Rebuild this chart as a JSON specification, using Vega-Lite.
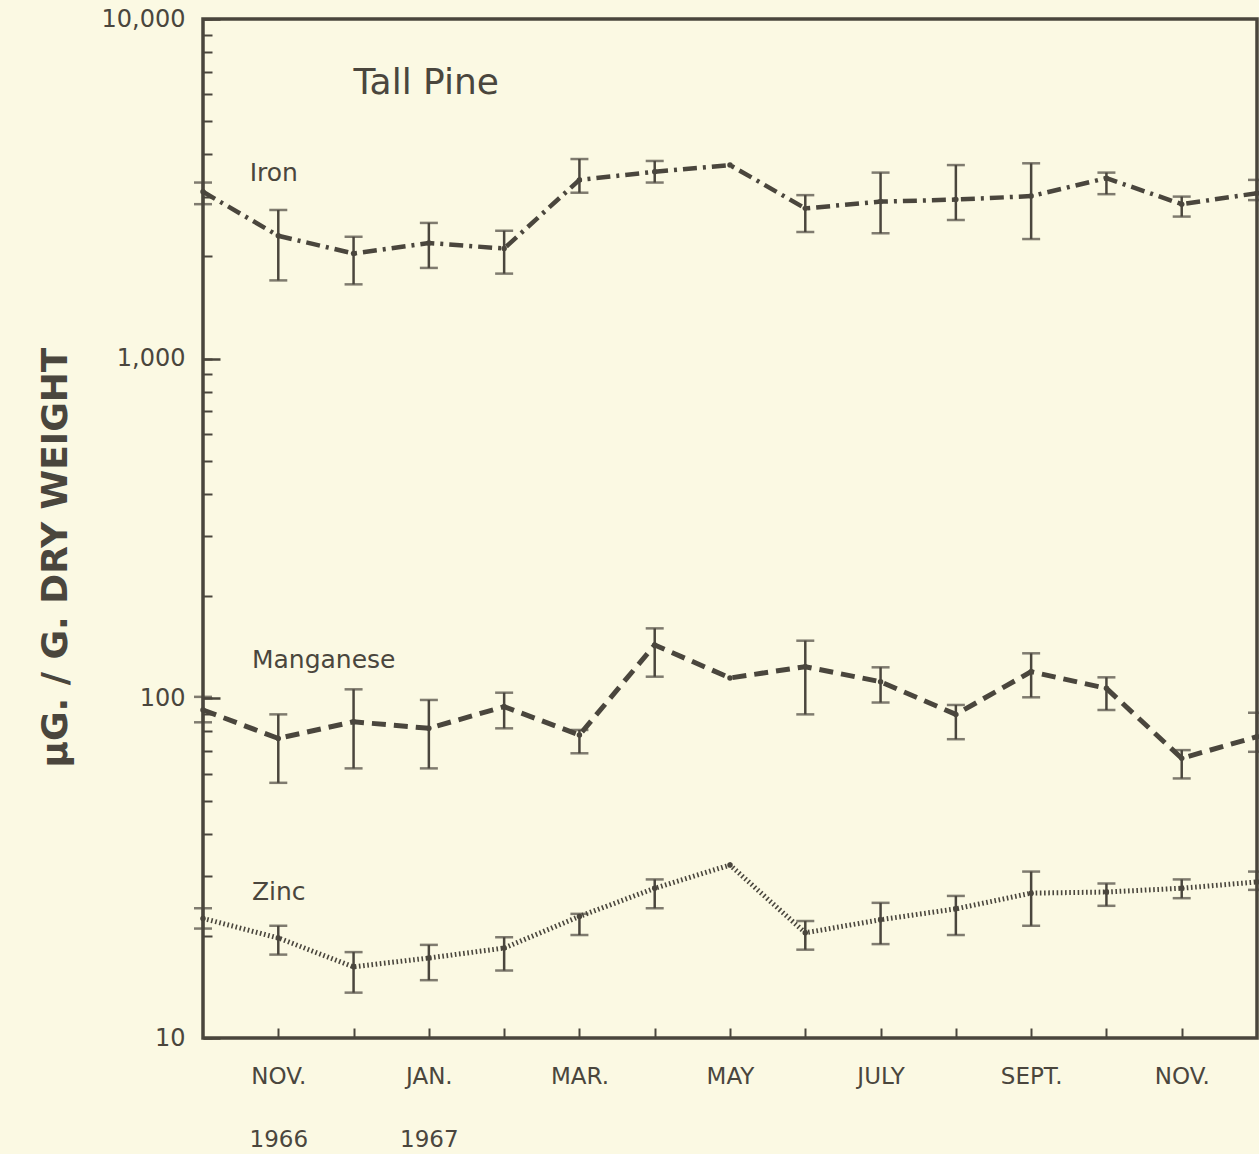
{
  "$schema": "https://vega.github.io/schema/vega-lite/v6.json",
  "width": 1054,
  "height": 1019,
  "autosize": {"type": "none"},
  "padding": {"left": 203, "top": 19, "right": 2, "bottom": 116},
  "background": "#fbf9e3",
  "config": {
    "view": {"stroke": "#4a463d", "strokeWidth": 3.5},
    "font": "DejaVu Sans"
  },
  "datasets": {
    "series": [
      {"el": "Iron", "m": 0, "v": 3100, "lo": 2850, "hi": 3300},
      {"el": "Iron", "m": 1, "v": 2300, "lo": 1700, "hi": 2740},
      {"el": "Iron", "m": 2, "v": 2040, "lo": 1655, "hi": 2285},
      {"el": "Iron", "m": 3, "v": 2190, "lo": 1850, "hi": 2510},
      {"el": "Iron", "m": 4, "v": 2110, "lo": 1780, "hi": 2380},
      {"el": "Iron", "m": 5, "v": 3360, "lo": 3080, "hi": 3870},
      {"el": "Iron", "m": 6, "v": 3550, "lo": 3300, "hi": 3820},
      {"el": "Iron", "m": 7, "v": 3715, "lo": null, "hi": null},
      {"el": "Iron", "m": 8, "v": 2770, "lo": 2360, "hi": 3030},
      {"el": "Iron", "m": 9, "v": 2900, "lo": 2340, "hi": 3530},
      {"el": "Iron", "m": 10, "v": 2940, "lo": 2560, "hi": 3715},
      {"el": "Iron", "m": 11, "v": 3010, "lo": 2250, "hi": 3760},
      {"el": "Iron", "m": 12, "v": 3400, "lo": 3050, "hi": 3530},
      {"el": "Iron", "m": 13, "v": 2850, "lo": 2620, "hi": 3000},
      {"el": "Iron", "m": 14, "v": 3070, "lo": 2930, "hi": 3360},
      {"el": "Manganese", "m": 0, "v": 92.4, "lo": 85, "hi": 101},
      {"el": "Manganese", "m": 1, "v": 76.2, "lo": 56.4, "hi": 89.7},
      {"el": "Manganese", "m": 2, "v": 85.3, "lo": 62.2, "hi": 106.3},
      {"el": "Manganese", "m": 3, "v": 81.6, "lo": 62.2, "hi": 98.9},
      {"el": "Manganese", "m": 4, "v": 94.5, "lo": 81.6, "hi": 103.9},
      {"el": "Manganese", "m": 5, "v": 78.0, "lo": 68.9, "hi": 80.7},
      {"el": "Manganese", "m": 6, "v": 143.6, "lo": 115.8, "hi": 160.7},
      {"el": "Manganese", "m": 7, "v": 114.8, "lo": null, "hi": null},
      {"el": "Manganese", "m": 8, "v": 123.9, "lo": 89.7, "hi": 147.8},
      {"el": "Manganese", "m": 9, "v": 111.9, "lo": 97.2, "hi": 123.4},
      {"el": "Manganese", "m": 10, "v": 89.7, "lo": 75.8, "hi": 95.6},
      {"el": "Manganese", "m": 11, "v": 119.8, "lo": 100.7, "hi": 135.7},
      {"el": "Manganese", "m": 12, "v": 107, "lo": 92.4, "hi": 115.3},
      {"el": "Manganese", "m": 13, "v": 66.6, "lo": 58.1, "hi": 70.4},
      {"el": "Manganese", "m": 14, "v": 77.1, "lo": 69.6, "hi": 90.7},
      {"el": "Zinc", "m": 0, "v": 22.5, "lo": 21.0, "hi": 24.1},
      {"el": "Zinc", "m": 1, "v": 19.7, "lo": 17.6, "hi": 21.4},
      {"el": "Zinc", "m": 2, "v": 16.2, "lo": 13.6, "hi": 17.9},
      {"el": "Zinc", "m": 3, "v": 17.2, "lo": 14.8, "hi": 18.8},
      {"el": "Zinc", "m": 4, "v": 18.4, "lo": 15.8, "hi": 19.8},
      {"el": "Zinc", "m": 5, "v": 22.8, "lo": 20.1, "hi": 23.2},
      {"el": "Zinc", "m": 6, "v": 27.6, "lo": 24.1, "hi": 29.3},
      {"el": "Zinc", "m": 7, "v": 32.3, "lo": null, "hi": null},
      {"el": "Zinc", "m": 8, "v": 20.4, "lo": 18.2, "hi": 22.1},
      {"el": "Zinc", "m": 9, "v": 22.3, "lo": 18.9, "hi": 25.0},
      {"el": "Zinc", "m": 10, "v": 24.0, "lo": 20.1, "hi": 26.2},
      {"el": "Zinc", "m": 11, "v": 26.7, "lo": 21.4, "hi": 30.9},
      {"el": "Zinc", "m": 12, "v": 26.9, "lo": 24.5, "hi": 28.5},
      {"el": "Zinc", "m": 13, "v": 27.6, "lo": 25.8, "hi": 29.3},
      {"el": "Zinc", "m": 14, "v": 28.8, "lo": 27.3, "hi": 30.9}
    ],
    "notes": [
      {"label": "Tall Pine", "m": 2.0, "v": 6470, "size": "big"},
      {"label": "Iron", "m": 0.62, "v": 3520, "size": "small"},
      {"label": "Manganese", "m": 0.65, "v": 129.7, "size": "small"},
      {"label": "Zinc", "m": 0.65, "v": 26.9, "size": "small"}
    ]
  },
  "resolve": {"axis": {"y": "independent"}},
  "layer": [
    {
      "data": {"name": "series"},
      "transform": [{"filter": "datum.el == 'Iron'"}],
      "mark": {"type": "line", "color": "#4a463d", "strokeWidth": 4.5, "strokeDash": [14, 6, 3, 6], "strokeCap": "butt"},
      "encoding": {
        "x": {
          "field": "m", "type": "quantitative",
          "scale": {"domain": [0, 14], "nice": false, "zero": false},
          "axis": {
            "values": [1, 2, 3, 4, 5, 6, 7, 8, 9, 10, 11, 12, 13],
            "domain": false, "grid": false, "title": null,
            "tickSize": -10, "tickWidth": 2, "tickColor": "#4a463d",
            "labelExpr": "datum.value == 1 ? ['NOV.', '1966'] : datum.value == 3 ? ['JAN.', '1967'] : datum.value == 5 ? 'MAR.' : datum.value == 7 ? 'MAY' : datum.value == 9 ? 'JULY' : datum.value == 11 ? 'SEPT.' : datum.value == 13 ? 'NOV.' : ''",
            "labelFontSize": 23, "labelColor": "#4a463d", "labelPadding": 37,
            "labelLineHeight": 63, "labelOverlap": false, "labelFlush": false
          }
        },
        "y": {
          "field": "v", "type": "quantitative",
          "scale": {"type": "log", "domain": [10, 10000], "nice": false},
          "axis": {
            "orient": "left",
            "values": [10, 20, 30, 40, 50, 60, 70, 80, 90, 100, 200, 300, 400, 500, 600, 700, 800, 900, 1000, 2000, 3000, 4000, 5000, 6000, 7000, 8000, 9000, 10000],
            "domain": false, "grid": false,
            "tickSize": -9, "tickWidth": 2, "tickColor": "#4a463d",
            "labelExpr": "indexof([10, 100, 1000, 10000], datum.value) >= 0 ? format(datum.value, ',') : ''",
            "labelFontSize": 24, "labelColor": "#4a463d", "labelPadding": 27, "labelOverlap": false, "labelFlush": false,
            "title": "µG. / G. DRY WEIGHT",
            "titleFontSize": 36, "titleFontWeight": "bold", "titleColor": "#4a463d",
            "titleX": -148, "titleY": 538, "titleAngle": -90,
            "titleAlign": "center", "titleBaseline": "middle"
          }
        }
      }
    },
    {
      "data": {"name": "series"},
      "transform": [{"filter": "datum.el == 'Manganese'"}],
      "mark": {"type": "line", "color": "#4a463d", "strokeWidth": 5, "strokeDash": [14, 8], "strokeCap": "butt"},
      "encoding": {
        "x": {"field": "m", "type": "quantitative"},
        "y": {"field": "v", "type": "quantitative", "axis": null}
      }
    },
    {
      "data": {"name": "series"},
      "transform": [{"filter": "datum.el == 'Zinc'"}],
      "mark": {"type": "line", "color": "#4a463d", "strokeWidth": 5, "strokeDash": [1.6, 2.6], "strokeCap": "butt"},
      "encoding": {
        "x": {"field": "m", "type": "quantitative"},
        "y": {"field": "v", "type": "quantitative", "axis": null}
      }
    },
    {
      "data": {"name": "series"},
      "transform": [{"filter": "datum.lo != null"}],
      "mark": {"type": "rule", "color": "#4a463d", "strokeWidth": 2.5},
      "encoding": {
        "x": {"field": "m", "type": "quantitative"},
        "y": {"field": "lo", "type": "quantitative", "axis": null},
        "y2": {"field": "hi"}
      }
    },
    {
      "data": {"name": "series"},
      "transform": [{"filter": "datum.lo != null"}],
      "mark": {"type": "tick", "orient": "horizontal", "color": "#4a463d", "size": 18, "thickness": 2.5},
      "encoding": {
        "x": {"field": "m", "type": "quantitative"},
        "y": {"field": "lo", "type": "quantitative", "axis": null}
      }
    },
    {
      "data": {"name": "series"},
      "transform": [{"filter": "datum.lo != null"}],
      "mark": {"type": "tick", "orient": "horizontal", "color": "#4a463d", "size": 18, "thickness": 2.5},
      "encoding": {
        "x": {"field": "m", "type": "quantitative"},
        "y": {"field": "hi", "type": "quantitative", "axis": null}
      }
    },
    {
      "data": {"name": "series"},
      "mark": {"type": "point", "filled": true, "color": "#4a463d", "size": 30, "opacity": 1},
      "encoding": {
        "x": {"field": "m", "type": "quantitative"},
        "y": {"field": "v", "type": "quantitative", "axis": null}
      }
    },
    {
      "data": {"name": "notes"},
      "mark": {"type": "text", "align": "left", "baseline": "middle", "color": "#4a463d"},
      "encoding": {
        "x": {"field": "m", "type": "quantitative"},
        "y": {
          "field": "v", "type": "quantitative",
          "axis": {
            "orient": "left", "values": [10, 100, 1000, 10000],
            "domain": false, "grid": false, "labels": false, "title": null,
            "tickSize": -17, "tickWidth": 2.5, "tickColor": "#4a463d"
          }
        },
        "text": {"field": "label"},
        "size": {"field": "size", "type": "nominal", "scale": {"domain": ["big", "small"], "range": [36, 25]}, "legend": null}
      }
    }
  ]
}
